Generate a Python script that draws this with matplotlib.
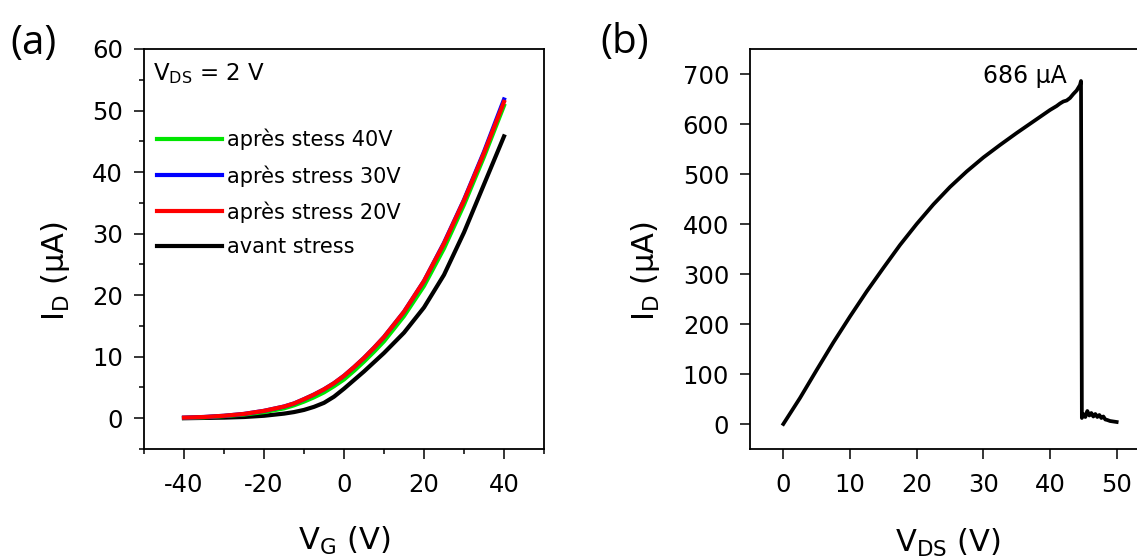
import matplotlib.pyplot as plt
from matplotlib.ticker import MultipleLocator

plt.rcParams['font.family'] = 'DejaVu Sans'
plt.rcParams['mathtext.fontset'] = 'dejavusans'
plt.rcParams['axes.unicode_minus'] = False

# (a) transfer curves at V_DS = 2 V
vg = [-40, -35, -30, -25, -20, -15, -12.5, -10, -7.5, -5, -2.5, 0, 2.5, 5, 7.5, 10,
      15, 20, 25, 30, 35, 40]
id_avant = [0.0, 0.05, 0.1, 0.2, 0.4, 0.75, 1.0, 1.35, 1.85, 2.5, 3.5, 4.8, 6.2, 7.6, 9.1, 10.6,
            13.9, 18.0, 23.3, 30.2, 38.0, 45.8]
id_20v = [0.1, 0.2, 0.4, 0.7, 1.2, 1.9, 2.4, 3.1, 3.85, 4.7, 5.7, 6.9, 8.3, 9.8, 11.45, 13.2,
          17.3, 22.3, 28.4, 35.4, 43.1, 51.4]
id_30v = [0.1, 0.2, 0.4, 0.7, 1.2, 1.9, 2.4, 3.1, 3.85, 4.7, 5.7, 6.9, 8.3, 9.8, 11.45, 13.2,
          17.3, 22.3, 28.5, 35.5, 43.3, 51.8]
id_40v = [0.05, 0.15, 0.35, 0.6, 1.0, 1.6, 2.1, 2.7, 3.4, 4.2, 5.2, 6.3, 7.7, 9.2, 10.8, 12.5,
          16.6, 21.5, 27.6, 34.7, 42.5, 50.8]

# (b) breakdown sweep, I_D vs V_DS
vds = [0, 2.5, 5, 7.5, 10, 12.5, 15, 17.5, 20, 22.5, 25, 27.5, 30, 32.5, 35, 37.5, 40,
       41, 41.5, 42, 42.5, 43, 43.5, 44, 44.5, 44.65, 44.72, 44.78,
       45.0, 45.3, 45.6, 45.9, 46.2, 46.5, 46.8, 47.1, 47.4, 47.7, 48.0, 48.3, 48.6, 49.0, 49.5, 50]
id_vds = [0, 52, 108, 163, 215, 265, 312, 358, 400, 439, 474, 505, 533, 558, 582, 605, 628,
          636, 641, 645, 647, 652, 660, 667, 678, 686, 350, 12,
          20, 14, 26, 17, 22, 15, 20, 14, 18, 12, 15, 9, 8, 6, 5, 4]

W, H = 1137, 560
fig = plt.figure(figsize=(W / 100, H / 100), dpi=100)
ax1 = fig.add_axes([144 / W, (H - 449) / H, 400 / W, 400 / H])
ax2 = fig.add_axes([750 / W, (H - 449) / H, 400 / W, 400 / H])

lw = 3.0
l_av, = ax1.plot(vg, id_avant, color='black', lw=lw, label='avant stress')
l_40, = ax1.plot(vg, id_40v, color='#00e600', lw=lw, label='après stess 40V')
l_30, = ax1.plot(vg, id_30v, color='#0000ff', lw=lw, label='après stress 30V')
l_20, = ax1.plot(vg, id_20v, color='#ff0000', lw=lw, label='après stress 20V')

ax1.set_xlim(-50, 50)
ax1.set_ylim(-5, 60)
ax1.xaxis.set_major_locator(MultipleLocator(20))
ax1.xaxis.set_minor_locator(MultipleLocator(10))
ax1.yaxis.set_major_locator(MultipleLocator(10))
ax1.yaxis.set_minor_locator(MultipleLocator(5))
ax1.set_xlabel(r'V$_{\mathregular{G}}$ (V)', fontsize=22)
ax1.set_ylabel(r'I$_{\mathregular{D}}$ (µA)', fontsize=22)
ax1.xaxis.set_label_coords(0.5, -0.19)
ax1.yaxis.set_label_coords(-0.18, 0.444)

ax1.text(0.0225, 0.9225, r'V$_{\mathregular{DS}}$ = 2 V', transform=ax1.transAxes,
         fontsize=16.5, va='baseline', ha='left')
ax1.legend(handles=[l_40, l_30, l_20, l_av], loc='upper left',
           bbox_to_anchor=(0.0325, 0.80), frameon=False, fontsize=15,
           handlelength=3.1, handletextpad=0.25, labelspacing=0.7,
           borderpad=0, borderaxespad=0)

ax2.plot(vds, id_vds, color='black', lw=2.7)
ax2.set_xlim(-5, 55)
ax2.set_ylim(-50, 750)
ax2.xaxis.set_major_locator(MultipleLocator(10))
ax2.yaxis.set_major_locator(MultipleLocator(100))
ax2.set_xlabel(r'V$_{\mathregular{DS}}$ (V)', fontsize=22)
ax2.set_ylabel(r'I$_{\mathregular{D}}$ (µA)', fontsize=22)
ax2.xaxis.set_label_coords(0.495, -0.195)
ax2.yaxis.set_label_coords(-0.22, 0.444)
ax2.text(42.5, 697, '686 µA', fontsize=17, ha='right', va='center')

for ax in (ax1, ax2):
    ax.tick_params(which='both', direction='out', width=1.1, labelsize=17.5,
                   top=False, right=False)
    ax.tick_params(which='major', length=7, pad=8)
    ax.tick_params(axis='x', which='major', pad=10)
    ax.tick_params(which='minor', length=3.6)
    for sp in ax.spines.values():
        sp.set_linewidth(1.3)

fig.text(10 / W, 1 - 44 / H, '(a)', fontsize=29, family='Open Sans', va='center', ha='left')
fig.text(600 / W, 1 - 43 / H, '(b)', fontsize=29, family='Open Sans', va='center', ha='left')

fig.savefig('out.png', dpi=100)
